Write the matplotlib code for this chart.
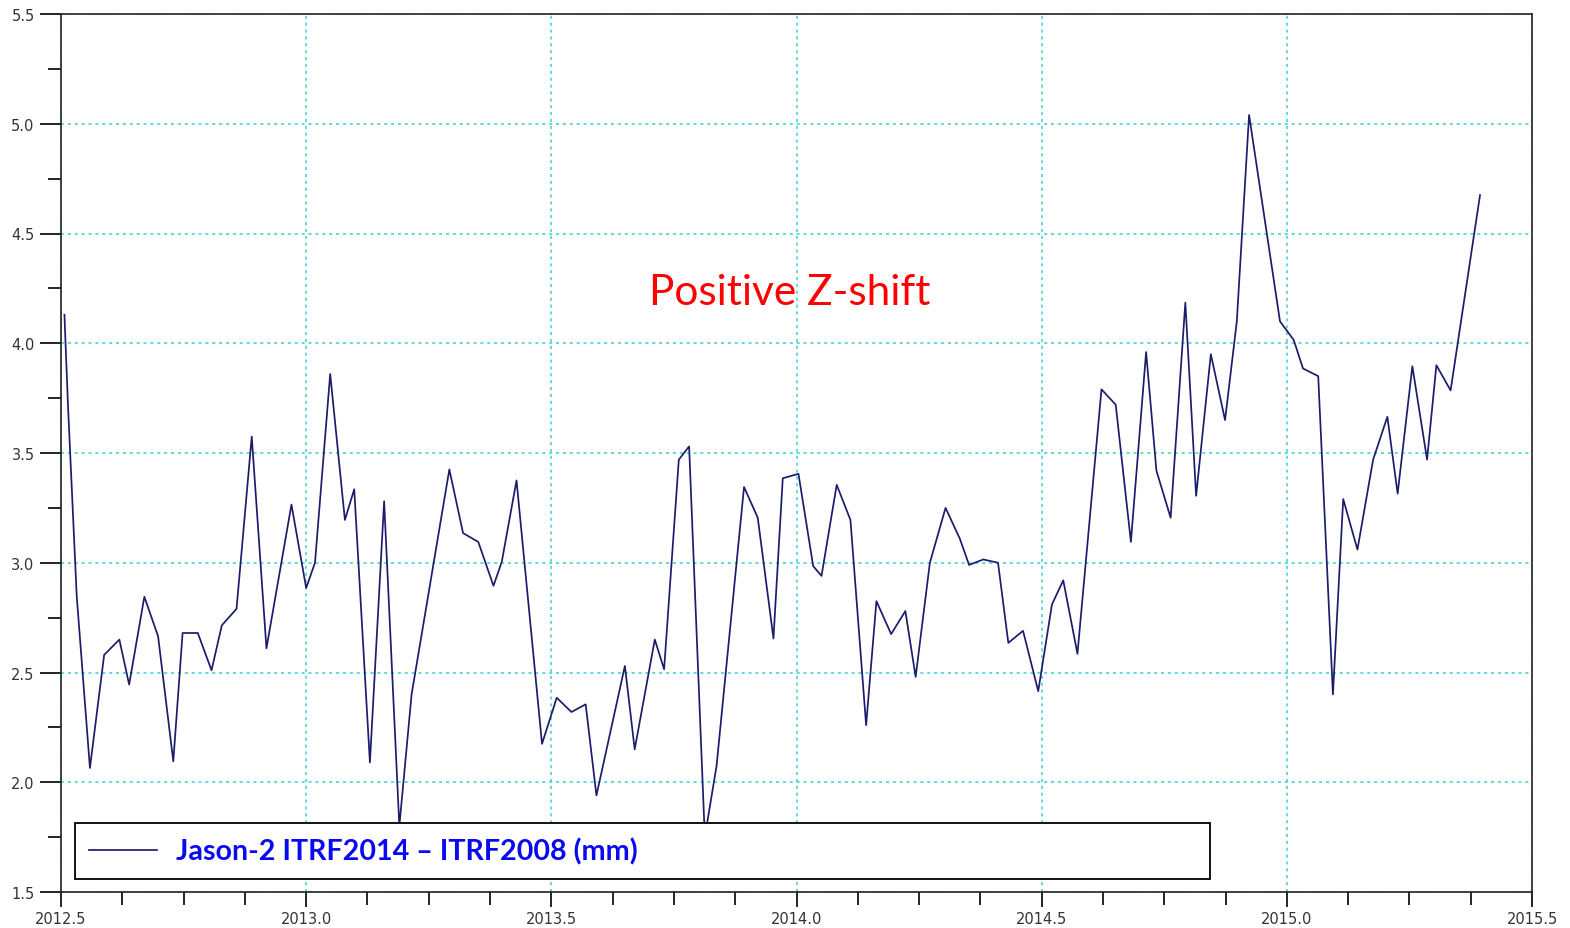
import matplotlib
matplotlib.use("Agg")
import matplotlib.pyplot as plt
from matplotlib.ticker import MultipleLocator
import numpy as np

# Jason-2 Z-shift, ITRF2014 - ITRF2008 (mm)
years = [2012.507, 2012.514, 2012.532, 2012.559, 2012.588, 2012.619, 2012.639,
         2012.670, 2012.698, 2012.729, 2012.748, 2012.779, 2012.807, 2012.828,
         2012.858, 2012.889, 2012.919, 2012.970, 2013.000, 2013.018, 2013.049,
         2013.079, 2013.098, 2013.130, 2013.159, 2013.190, 2013.215, 2013.292,
         2013.320, 2013.351, 2013.382, 2013.399, 2013.429, 2013.481, 2013.511,
         2013.541, 2013.570, 2013.592, 2013.650, 2013.670, 2013.711, 2013.730,
         2013.760, 2013.781, 2013.813, 2013.837, 2013.893, 2013.921, 2013.953,
         2013.972, 2014.004, 2014.034, 2014.051, 2014.082, 2014.110, 2014.142,
         2014.163, 2014.193, 2014.222, 2014.243, 2014.272, 2014.304, 2014.333,
         2014.352, 2014.381, 2014.411, 2014.432, 2014.462, 2014.493, 2014.521,
         2014.544, 2014.573, 2014.622, 2014.651, 2014.682, 2014.713, 2014.734,
         2014.763, 2014.793, 2014.815, 2014.845, 2014.874, 2014.898, 2014.923,
         2014.986, 2015.014, 2015.033, 2015.064, 2015.094, 2015.115, 2015.144,
         2015.176, 2015.205, 2015.226, 2015.256, 2015.286, 2015.305, 2015.334,
         2015.394]
zshift = [4.13, 3.73, 2.85, 2.065, 2.58, 2.65, 2.445,
          2.845, 2.665, 2.095, 2.68, 2.68, 2.51, 2.715,
          2.79, 3.575, 2.61, 3.265, 2.885, 3.00, 3.86,
          3.195, 3.335, 2.09, 3.28, 1.80, 2.40, 3.425,
          3.135, 3.095, 2.895, 3.005, 3.375, 2.175, 2.385,
          2.32, 2.355, 1.94, 2.53, 2.15, 2.65, 2.515,
          3.47, 3.53, 1.75, 2.075, 3.345, 3.205, 2.655,
          3.385, 3.405, 2.985, 2.94, 3.355, 3.195, 2.26,
          2.825, 2.675, 2.78, 2.48, 3.00, 3.25, 3.11,
          2.99, 3.015, 3.00, 2.635, 2.69, 2.415, 2.81,
          2.92, 2.585, 3.79, 3.72, 3.095, 3.96, 3.42,
          3.205, 4.185, 3.305, 3.95, 3.65, 4.10, 5.04,
          4.10, 4.015, 3.885, 3.85, 2.40, 3.29, 3.06,
          3.47, 3.665, 3.315, 3.895, 3.47, 3.90, 3.785,
          4.675]

LABEL = "Jason-2 ITRF2014 \u2013 ITRF2008 (mm)"
NOTE = "Positive Z-shift"

fig = plt.figure(figsize=(15.70, 9.29), dpi=100)
ax = fig.add_axes([61 / 1570, 1 - 893 / 929, 1471 / 1570, 878 / 929])

ax.plot(years, zshift, "-", color="#1c1c6b", lw=1.25, label=LABEL, zorder=3)

ax.set_xlim(2012.5, 2015.5)
ax.set_ylim(1.5, 5.5)
ax.xaxis.set_major_locator(MultipleLocator(0.5))
ax.xaxis.set_minor_locator(MultipleLocator(0.125))
ax.yaxis.set_major_locator(MultipleLocator(0.5))
ax.yaxis.set_minor_locator(MultipleLocator(0.25))
ax.xaxis.set_major_formatter(lambda v, pos: f"{v:.1f}")
ax.yaxis.set_major_formatter(lambda v, pos: f"{v:.1f}")

ax.tick_params(axis="y", which="major", direction="out", length=15, width=1.2,
               labelsize=10.5, labelcolor="#333333", pad=4)
ax.tick_params(axis="y", which="minor", direction="out", length=9.5, width=1.2)
ax.tick_params(axis="x", which="major", direction="out", length=11, width=1.2,
               labelsize=10.5, labelcolor="#333333", pad=3)
ax.tick_params(axis="x", which="minor", direction="out", length=9, width=1.2)
for s in ax.spines.values():
    s.set_linewidth(1.2)
    s.set_color("#222222")

ax.grid(True, which="major", color="#3ccfd2", linestyle=(0, (2, 2.5)), lw=1.1, zorder=1)

ax.text(2013.987, 4.235, NOTE, color="red", fontsize=30.5, family="Lato",
        ha="center", va="center")

leg = ax.legend(loc="lower left", bbox_to_anchor=(0.0095, 0.0148, 0.7716, 0.0683),
                mode="expand", borderaxespad=0, fancybox=False, framealpha=1,
                edgecolor="black", handlelength=2.35, handletextpad=0.68,
                borderpad=0.5, prop={"family": "Lato", "weight": "bold", "size": 20.6})
leg.get_frame().set_linewidth(1.3)
for t in leg.get_texts():
    t.set_color("#0a0af0")

fig.savefig("out.png", dpi=100)
